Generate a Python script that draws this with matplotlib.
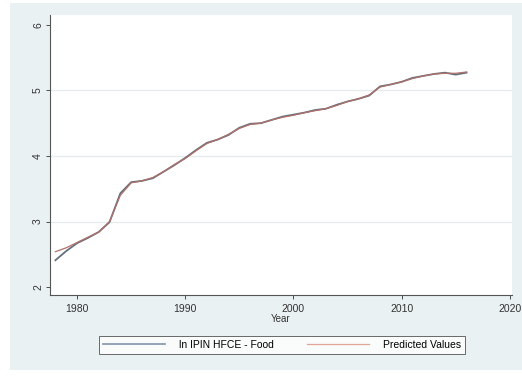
import numpy as np
import matplotlib.pyplot as plt
from matplotlib.patches import Rectangle

plt.rcParams['font.family'] = ['Liberation Sans', 'DejaVu Sans']

years = list(range(1978, 2017))
actual = [2.41, 2.55, 2.67, 2.75, 2.84, 2.99, 3.43, 3.60, 3.62, 3.66,
          3.76, 3.86, 3.97, 4.09, 4.20, 4.25, 4.32, 4.43, 4.49, 4.50,
          4.55, 4.60, 4.63, 4.66, 4.70, 4.72, 4.78, 4.83, 4.87, 4.92,
          5.06, 5.09, 5.13, 5.19, 5.22, 5.25, 5.27, 5.24, 5.27]
predicted = [2.54, 2.60, 2.68, 2.76, 2.84, 3.00, 3.40, 3.59, 3.62, 3.67,
             3.76, 3.87, 3.96, 4.08, 4.19, 4.25, 4.33, 4.42, 4.48, 4.50,
             4.55, 4.59, 4.62, 4.66, 4.69, 4.72, 4.77, 4.83, 4.87, 4.93,
             5.05, 5.09, 5.13, 5.18, 5.22, 5.25, 5.26, 5.26, 5.28]
xticks = [1980, 1990, 2000, 2010, 2020]
yticks = [2, 3, 4, 5, 6]

fig = plt.figure(figsize=(5.22, 3.80), dpi=100, facecolor='white')
fig.patches.append(Rectangle((0.019, 0.026), 0.981, 0.966, transform=fig.transFigure,
                             facecolor='#eaf1f2', edgecolor='none', zorder=-10))

ax = fig.add_axes([0.0958, 0.2237, 0.885, 0.737])
ax.set_zorder(2)
ax.set_facecolor('white')
for v in [3, 4, 5]:
    ax.axhline(v, color='#e6ecee', lw=1.0, zorder=1)

ax.plot(years, actual, color='#66707e', lw=1.3, label='ln IPIN HFCE - Food', zorder=3)
ax.plot(years, predicted, color='#b07068', lw=0.9, label='Predicted Values', zorder=3)

ax.set_xlim(1977.5, 2020.2)
ax.set_ylim(1.88, 6.15)
ax.set_xticks(xticks)
ax.set_yticks(yticks)
ax.set_yticklabels([str(v) for v in yticks], rotation=90, va='center')
ax.tick_params(axis='both', labelsize=7.5, colors='#333333', length=3, width=0.6)
ax.tick_params(axis='y', pad=2)
for s in ['top', 'right']:
    ax.spines[s].set_visible(False)
for s in ['left', 'bottom']:
    ax.spines[s].set_color('#555555')
    ax.spines[s].set_linewidth(0.8)
ax.set_xlabel('Year', fontsize=7, color='#333333', labelpad=0)

leg = fig.legend(loc='center', bbox_to_anchor=(0.54, 0.092), ncol=2, fontsize=7.5,
                 frameon=True, fancybox=False, edgecolor='#444444',
                 handlelength=6, handletextpad=1.3, columnspacing=3.2, borderpad=0.4)
leg.get_frame().set_linewidth(0.7)
leg.get_lines()[0].set_color('#8c9cb2')
leg.get_lines()[1].set_color('#e2a496')

fig.savefig('out.png', dpi=100)
